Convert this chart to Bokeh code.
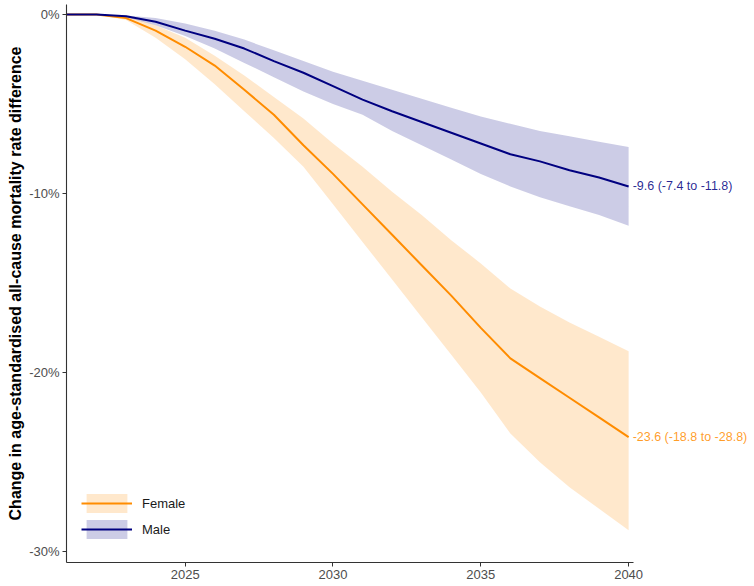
from bokeh.plotting import figure
from bokeh.models import (ColumnDataSource, Range1d, FixedTicker, PrintfTickFormatter,
                          Legend, LegendItem)
from bokeh.core.properties import value
from bokeh.embed import file_html
from bokeh.resources import INLINE

years = list(range(2021, 2041))

female = [0.0, 0.0, -0.2, -0.9, -1.8, -2.85, -4.2, -5.6, -7.3, -8.9, -10.6, -12.3, -14.0,
          -15.7, -17.5, -19.2, -20.3, -21.4, -22.5, -23.6]
female_upper = [0.0, 0.0, -0.1, -0.6, -1.3, -2.3, -3.4, -4.6, -5.8, -7.2, -8.5, -9.9, -11.2,
                -12.6, -13.9, -15.3, -16.3, -17.2, -18.0, -18.8]
female_lower = [0.0, 0.0, -0.3, -1.3, -2.5, -3.9, -5.4, -6.9, -8.5, -10.6, -12.7, -14.8, -16.9,
                -19.0, -21.1, -23.4, -25.0, -26.4, -27.6, -28.8]

male = [0.0, 0.0, -0.1, -0.4, -0.9, -1.35, -1.9, -2.6, -3.25, -4.0, -4.75, -5.4, -6.0,
        -6.6, -7.2, -7.8, -8.2, -8.7, -9.1, -9.6]
male_upper = [0.0, 0.0, -0.05, -0.2, -0.5, -0.9, -1.4, -2.0, -2.6, -3.2, -3.7, -4.2, -4.7,
              -5.2, -5.7, -6.1, -6.5, -6.8, -7.1, -7.4]
male_lower = [0.0, 0.0, -0.15, -0.6, -1.2, -1.9, -2.7, -3.5, -4.3, -5.0, -5.6, -6.5, -7.3,
              -8.1, -8.9, -9.6, -10.2, -10.7, -11.2, -11.8]

x_ticks = [2025, 2030, 2035, 2040]
y_ticks = [0, -10, -20, -30]
y_title = "Change in age-standardised all-cause mortality rate difference"

F_LINE = "#ff8c00"
M_LINE = "#000080"

src = ColumnDataSource(dict(year=years, f=female, fu=female_upper, fl=female_lower,
                            m=male, mu=male_upper, ml=male_lower))

p = figure(width=752, height=582, output_backend="svg", toolbar_location=None,
           x_range=Range1d(2020.986, 2044.19), y_range=Range1d(-30.6, 0.56),
           min_border_left=66, min_border_right=0, min_border_top=4, min_border_bottom=20)

p.outline_line_color = None
p.xgrid.visible = False
p.ygrid.visible = False
p.background_fill_color = "white"

fb = p.varea(x="year", y1="fu", y2="fl", source=src, fill_color=F_LINE, fill_alpha=0.2)
mb = p.varea(x="year", y1="mu", y2="ml", source=src, fill_color=M_LINE, fill_alpha=0.2)
fl = p.line(x="year", y="f", source=src, line_color=F_LINE, line_width=2)
ml = p.line(x="year", y="m", source=src, line_color=M_LINE, line_width=2)

for ax in (p.xaxis[0], p.yaxis[0]):
    ax.axis_line_color = "#333333"
    ax.axis_line_width = 1.1
    ax.major_tick_line_color = "#333333"
    ax.major_tick_out = 4
    ax.major_tick_in = 0
    ax.minor_tick_line_color = None
    ax.major_label_text_color = "#4d4d4d"
    ax.major_label_text_font = "Liberation Sans"
    ax.major_label_text_font_size = "13px"
    ax.major_label_standoff = 3

p.xaxis.bounds = (2020.986, 2040.17)
p.xaxis.ticker = FixedTicker(ticks=x_ticks)
p.yaxis.ticker = FixedTicker(ticks=y_ticks)
p.yaxis.formatter = PrintfTickFormatter(format="%d%%")
p.yaxis.axis_label = y_title
p.yaxis.axis_label_text_font = "Liberation Sans"
p.yaxis.axis_label_text_font_style = "bold"
p.yaxis.axis_label_text_font_size = "16px"
p.yaxis.axis_label_text_color = "black"
p.yaxis.axis_label_standoff = 2

legend = Legend(items=[LegendItem(label="Female", renderers=[fb, fl]),
                       LegendItem(label="Male", renderers=[mb, ml])],
                location=(15, 21), margin=0, padding=0, spacing=2,
                glyph_width=51, glyph_height=24, label_standoff=10,
                label_text_font="Liberation Sans", label_text_font_size="13px",
                label_text_color="#1a1a1a", border_line_color=None,
                background_fill_alpha=0)
p.add_layout(legend, "center")

end_src = ColumnDataSource(dict(
    x=[years[-1], years[-1]],
    y=[male[-1], female[-1]],
    t=[f"{male[-1]} ({male_upper[-1]} to {male_lower[-1]})",
       f"{female[-1]} ({female_upper[-1]} to {female_lower[-1]})"],
    c=[M_LINE, F_LINE]))
p.text(x="x", y="y", text="t", source=end_src, x_offset=4, text_color="c",
       text_alpha=0.85, text_font=value("Liberation Sans"), text_font_size="12.5px",
       text_baseline="middle", text_align="left")

open("out.html", "w").write(file_html(p, INLINE))
